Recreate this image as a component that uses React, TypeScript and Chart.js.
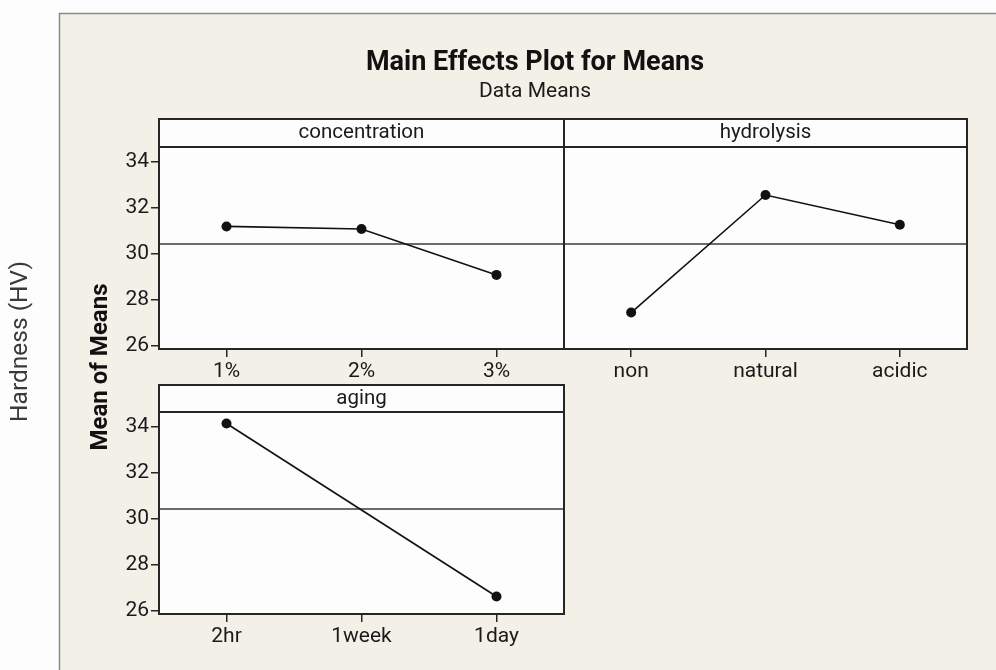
import React, { useEffect, useRef } from "react";
import { Chart, registerables } from "chart.js";

Chart.register(...registerables);

const W = 996;
const H = 670;

// ---- data ----
const concentrationLabels = ["1%", "2%", "3%"];
const concentrationMeans = [31.18, 31.07, 29.08];
const hydrolysisLabels = ["non", "natural", "acidic"];
const hydrolysisMeans = [27.45, 32.54, 31.25];
const agingLabels = ["2hr", "1week", "1day"];
const agingMeans: (number | null)[] = [34.12, null, 26.63];
const grandMean = 30.42;
const yTickValues = [26, 28, 30, 32, 34];
const yMin = 25.87;
const yMax = 34.62;

const FONT = "Roboto";
const TEXT = "#1a1a1a";
const BEIGE = "#f3f0e7";
const PAGE = "#fdfdfd";

const framePlugin = {
  id: "frameDecor",
  beforeDraw(chart: any) {
    const { ctx } = chart;
    ctx.save();
    ctx.fillStyle = PAGE;
    ctx.fillRect(0, 0, W, H);
    ctx.fillStyle = BEIGE;
    ctx.fillRect(59.5, 13.5, W - 59.5, H - 13.5);
    ctx.strokeStyle = "#8a8a8a";
    ctx.lineWidth = 1.5;
    ctx.beginPath();
    ctx.moveTo(59.5, H);
    ctx.lineTo(59.5, 13.5);
    ctx.lineTo(W, 13.5);
    ctx.stroke();
    ctx.restore();
  },
};

const panelPlugin = {
  id: "panelDecor",
  beforeDraw(chart: any, _args: any, opts: any) {
    const { ctx, chartArea: a } = chart;
    const sh = opts.stripHeight;
    ctx.save();
    ctx.fillStyle = PAGE;
    ctx.fillRect(a.left, a.top - sh, a.right - a.left, a.bottom - a.top + sh);
    ctx.restore();
  },
  beforeDatasetsDraw(chart: any, _args: any, opts: any) {
    const { ctx, chartArea: a, scales } = chart;
    const sh = opts.stripHeight;
    const y = scales.y.getPixelForValue(opts.refValue);
    ctx.save();
    ctx.strokeStyle = "#3a3a3a";
    ctx.lineWidth = 1.5;
    ctx.beginPath();
    ctx.moveTo(a.left, y);
    ctx.lineTo(a.right, y);
    ctx.stroke();
    ctx.strokeStyle = "#262626";
    ctx.lineWidth = 2;
    ctx.strokeRect(a.left, a.top - sh, a.right - a.left, a.bottom - a.top + sh);
    ctx.beginPath();
    ctx.moveTo(a.left, a.top);
    ctx.lineTo(a.right, a.top);
    ctx.stroke();
    ctx.restore();
  },
};

const YW = 50;
const XH = 40;
const STRIP_FONT = 20.5;

function panelConfig(
  labels: string[],
  values: (number | null)[],
  title: string,
  box: { left: number; right: number; top: number; stripH: number; bottom: number },
  showY: boolean
): any {
  const pad = (box.stripH - STRIP_FONT * 1.2) / 2;
  const yw = showY ? YW : 0;
  return {
    type: "line",
    data: {
      labels,
      datasets: [
        {
          data: values,
          borderColor: "#111",
          borderWidth: 1.6,
          pointRadius: 5,
          pointBackgroundColor: "#111",
          pointBorderWidth: 0,
          tension: 0,
          spanGaps: true,
        },
      ],
    },
    options: {
      responsive: false,
      animation: false,
      devicePixelRatio: 1,
      layout: {
        padding: {
          left: box.left - yw,
          right: W - box.right,
          top: box.top,
          bottom: H - box.bottom - XH,
        },
      },
      plugins: {
        legend: { display: false },
        tooltip: { enabled: false },
        title: {
          display: true,
          text: title,
          fullSize: false,
          color: TEXT,
          font: { family: FONT, size: STRIP_FONT, weight: "normal" },
          padding: { top: pad, bottom: pad },
        },
        panelDecor: { stripHeight: box.stripH, refValue: grandMean },
      },
      scales: {
        x: {
          type: "category",
          offset: true,
          afterFit: (s: any) => {
            s.height = XH;
          },
          grid: {
            drawOnChartArea: false,
            offset: false,
            tickLength: 8,
            color: "#262626",
            lineWidth: 1.5,
          },
          border: { display: false },
          ticks: {
            color: TEXT,
            padding: 2,
            font: { family: FONT, size: 21 },
            maxRotation: 0,
          },
        },
        y: {
          display: showY,
          min: yMin,
          max: yMax,
          afterFit: (s: any) => {
            s.width = yw;
          },
          afterBuildTicks: (s: any) => {
            s.ticks = yTickValues.map((v) => ({ value: v }));
          },
          grid: {
            drawOnChartArea: false,
            tickLength: 8,
            color: "#262626",
            lineWidth: 1.5,
          },
          border: { display: false },
          ticks: {
            color: TEXT,
            padding: 2,
            font: { family: FONT, size: 21 },
          },
        },
      },
    },
    plugins: [panelPlugin],
  };
}

export default function App() {
  const frameRef = useRef<HTMLCanvasElement>(null);
  const hardRef = useRef<HTMLCanvasElement>(null);
  const concRef = useRef<HTMLCanvasElement>(null);
  const hydroRef = useRef<HTMLCanvasElement>(null);
  const agingRef = useRef<HTMLCanvasElement>(null);

  useEffect(() => {
    const charts: Chart[] = [];

    charts.push(
      new Chart(frameRef.current as HTMLCanvasElement, {
        type: "line",
        data: { labels: [], datasets: [] },
        options: {
          responsive: false,
          animation: false,
          devicePixelRatio: 1,
          layout: { padding: { top: 0, left: 0, right: 0, bottom: 56 } },
          plugins: {
            legend: { display: false },
            tooltip: { enabled: false },
            title: {
              display: true,
              text: "Main Effects Plot for Means",
              fullSize: false,
              color: "#111",
              font: { family: FONT, size: 27, weight: "bold" },
              padding: { top: 46.8, bottom: 0 },
            },
            subtitle: {
              display: true,
              text: "Data Means",
              fullSize: false,
              color: TEXT,
              font: { family: FONT, size: 21, weight: "normal" },
              padding: { top: 0, bottom: 15.6 },
            },
          },
          scales: {
            x: { display: false },
            y: {
              display: true,
              afterFit: (s: any) => {
                s.width = 74;
              },
              grid: { display: false },
              border: { display: false },
              ticks: { display: false },
              title: {
                display: true,
                text: "Mean of Means",
                color: "#111",
                font: { family: FONT, size: 24, weight: "bold" },
                padding: { top: 86.6, bottom: 0 },
              },
            },
          },
        } as any,
        plugins: [framePlugin],
      })
    );

    charts.push(
      new Chart(hardRef.current as HTMLCanvasElement, {
        type: "line",
        data: { labels: [], datasets: [] },
        options: {
          responsive: false,
          animation: false,
          devicePixelRatio: 1,
          layout: { padding: { top: 13, left: 0, right: 0, bottom: 0 } },
          plugins: { legend: { display: false }, tooltip: { enabled: false } },
          scales: {
            x: { display: false },
            y: {
              display: true,
              afterFit: (s: any) => {
                s.width = 50;
              },
              grid: { display: false },
              border: { display: false },
              ticks: { display: false },
              title: {
                display: true,
                text: "Hardness (HV)",
                color: "#3a3a3a",
                font: { family: FONT, size: 24.5, weight: "normal" },
                padding: { top: 6.4, bottom: 0 },
              },
            },
          },
        } as any,
      })
    );

    charts.push(
      new Chart(
        concRef.current as HTMLCanvasElement,
        panelConfig(
          concentrationLabels,
          concentrationMeans,
          "concentration",
          { left: 159, right: 564, top: 119, stripH: 28, bottom: 349 },
          true
        )
      )
    );
    charts.push(
      new Chart(
        hydroRef.current as HTMLCanvasElement,
        panelConfig(
          hydrolysisLabels,
          hydrolysisMeans,
          "hydrolysis",
          { left: 564, right: 967, top: 119, stripH: 28, bottom: 349 },
          false
        )
      )
    );
    charts.push(
      new Chart(
        agingRef.current as HTMLCanvasElement,
        panelConfig(
          agingLabels,
          agingMeans,
          "aging",
          { left: 159, right: 564, top: 385, stripH: 27, bottom: 614 },
          true
        )
      )
    );

    return () => {
      charts.forEach((c) => c.destroy());
    };
  }, []);

  const cs: React.CSSProperties = { position: "absolute", left: 0, top: 0, width: W, height: H };
  return (
    <div style={{ position: "absolute", left: 0, top: 0, width: W, height: H, background: PAGE, overflow: "hidden" }}>
      <canvas ref={frameRef} width={W} height={H} style={cs} />
      <canvas ref={hardRef} width={W} height={H} style={cs} />
      <canvas ref={concRef} width={W} height={H} style={cs} />
      <canvas ref={hydroRef} width={W} height={H} style={cs} />
      <canvas ref={agingRef} width={W} height={H} style={cs} />
    </div>
  );
}
